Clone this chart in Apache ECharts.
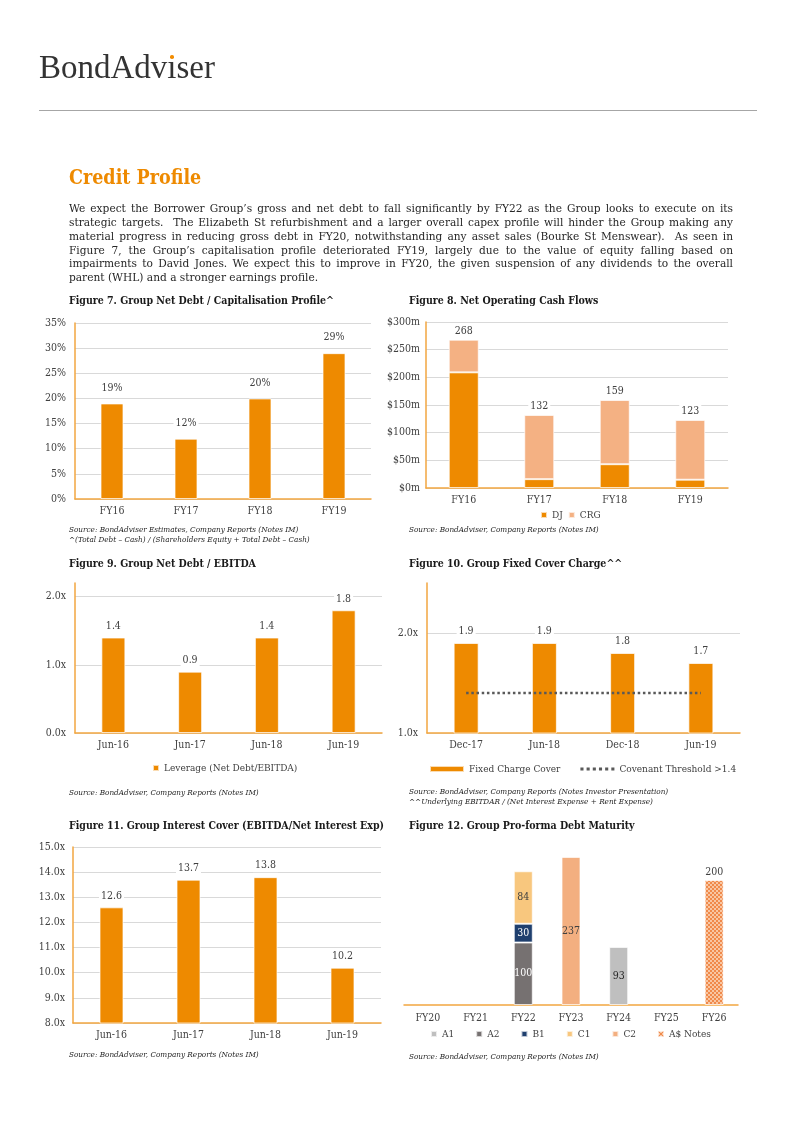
<!DOCTYPE html>
<html><head><meta charset="utf-8">
<script src="https://cdn.jsdelivr.net/npm/echarts@6/dist/echarts.min.js"></script>
<style>
html,body{margin:0;padding:0;background:#fff;}
#page{position:relative;width:800px;height:1132px;overflow:hidden;font-family:'DejaVu Serif Condensed','DejaVu Serif',serif;color:#262626;}
#chart{position:absolute;left:0;top:0;width:800px;height:1132px;}
.t{position:absolute;white-space:nowrap;z-index:2;pointer-events:none;}
.logo{font-family:'Liberation Serif',serif;font-size:33px;line-height:33px;color:#333;left:39px;top:51px;}
.idot{position:relative;}
.idot::after{content:'';position:absolute;width:3.5px;height:3.5px;border-radius:50%;background:#F28C00;left:50%;margin-left:-1.75px;top:6px;}
.rule{position:absolute;left:39px;top:110px;width:718px;height:0;border-top:1.5px solid #A6A6A6;}
.h1{font-weight:bold;font-size:19.5px;line-height:20px;color:#EE8A00;left:69px;top:168px;}
.para{position:absolute;left:69px;top:202.3px;width:664px;font-size:11.8px;line-height:13.8px;color:#262626;z-index:2;}
.para div{text-align:justify;text-align-last:justify;white-space:nowrap;}
.para div.last{text-align-last:left;}
.ft{font-weight:bold;font-size:10.5px;line-height:14px;color:#1a1a1a;}
.src{font-style:italic;font-size:8.1px;line-height:9.8px;color:#262626;}
</style></head>
<body><div id="page">
<div id="chart"></div>
<div class="t logo">BondAdv<span class="idot">ı</span>ser</div>
<div class="rule"></div>
<div class="t h1">Credit Profile</div>
<div class="para">
<div>We expect the Borrower Group’s gross and net debt to fall significantly by FY22 as the Group looks to execute on its</div>
<div>strategic targets.&nbsp; The Elizabeth St refurbishment and a larger overall capex profile will hinder the Group making any</div>
<div>material progress in reducing gross debt in FY20, notwithstanding any asset sales (Bourke St Menswear).&nbsp; As seen in</div>
<div>Figure 7, the Group’s capitalisation profile deteriorated FY19, largely due to the value of equity falling based on</div>
<div>impairments to David Jones. We expect this to improve in FY20, the given suspension of any dividends to the overall</div>
<div class="last">parent (WHL) and a stronger earnings profile.</div>
</div>
<div class="t ft" style="left:69px;top:293px;">Figure 7. Group Net Debt / Capitalisation Profile^</div>
<div class="t ft" style="left:409px;top:293px;">Figure 8. Net Operating Cash Flows</div>
<div class="t ft" style="left:69px;top:556px;">Figure 9. Group Net Debt / EBITDA</div>
<div class="t ft" style="left:409px;top:556px;">Figure 10. Group Fixed Cover Charge^^</div>
<div class="t ft" style="left:69px;top:818px;">Figure 11. Group Interest Cover (EBITDA/Net Interest Exp)</div>
<div class="t ft" style="left:409px;top:818px;">Figure 12. Group Pro-forma Debt Maturity</div>
<div class="t src" style="left:69px;top:525px;">Source: BondAdviser Estimates, Company Reports (Notes IM)<br>^(Total Debt – Cash) / (Shareholders Equity + Total Debt – Cash)</div>
<div class="t src" style="left:409px;top:525px;">Source: BondAdviser, Company Reports (Notes IM)</div>
<div class="t src" style="left:69px;top:788px;">Source: BondAdviser, Company Reports (Notes IM)</div>
<div class="t src" style="left:409px;top:787px;">Source: BondAdviser, Company Reports (Notes Investor Presentation)<br>^^Underlying EBITDAR / (Net Interest Expense + Rent Expense)</div>
<div class="t src" style="left:69px;top:1050px;">Source: BondAdviser, Company Reports (Notes IM)</div>
<div class="t src" style="left:409px;top:1052px;">Source: BondAdviser, Company Reports (Notes IM)</div>
</div>
<script>
// ---------- data ----------
const fig7Categories = ['FY16', 'FY17', 'FY18', 'FY19'];
const fig7NetDebtCap = [0.19, 0.12, 0.20, 0.29];
const fig7Ticks = {min: 0, max: 0.35, interval: 0.05};

const fig8Categories = ['FY16', 'FY17', 'FY18', 'FY19'];
const fig8DJ = [209, 16, 43, 15];
const fig8CRG = [59, 116, 116, 108];
const fig8Totals = [268, 132, 159, 123];
const fig8Ticks = {min: 0, max: 300, interval: 50};

const fig9Categories = ['Jun-16', 'Jun-17', 'Jun-18', 'Jun-19'];
const fig9Leverage = [1.4, 0.9, 1.4, 1.8];
const fig9Ticks = {min: 0, max: 2.2, interval: 1};

const fig10Categories = ['Dec-17', 'Jun-18', 'Dec-18', 'Jun-19'];
const fig10Cover = [1.9, 1.9, 1.8, 1.7];
const fig10Threshold = [1.4, 1.4, 1.4, 1.4];
const fig10Ticks = {min: 1, max: 2.5, interval: 1};

const fig11Categories = ['Jun-16', 'Jun-17', 'Jun-18', 'Jun-19'];
const fig11Cover = [12.6, 13.7, 13.8, 10.2];
const fig11Ticks = {min: 8, max: 15, interval: 1};

const fig12Categories = ['FY20', 'FY21', 'FY22', 'FY23', 'FY24', 'FY25', 'FY26'];
const fig12A1 = [null, null, null, null, 93, null, null];
const fig12A2 = [null, null, 100, null, null, null, null];
const fig12B1 = [null, null, 30, null, null, null, null];
const fig12C1 = [null, null, 84, null, null, null, null];
const fig12C2 = [null, null, null, 237, null, null, null];
const fig12Notes = [null, null, null, null, null, null, 200];
const fig12Max = 240;

// ---------- styles ----------
const FONT = "'DejaVu Serif Condensed','DejaVu Serif',serif";
const ORANGE = '#EE8A00';
const AXIS_ORANGE = '#F2A640';
const GRID_GRAY = '#D9D9D9';
const TXT = '#404040';

const pat = document.createElement('canvas');
pat.width = 4; pat.height = 4;
(function(){
  const c = pat.getContext('2d');
  c.fillStyle = '#F8C6A2'; c.fillRect(0,0,4,4);
  c.fillStyle = '#F0894A'; c.fillRect(0,0,2,2); c.fillRect(2,2,2,2);
})();

const chart = echarts.init(document.getElementById('chart'), null, {renderer: 'canvas'});

const grids = [
  {left: 75, top: 323, width: 296, height: 176},
  {left: 426, top: 322, width: 302, height: 166},
  {left: 75, top: 583, width: 307, height: 150},
  {left: 427, top: 583, width: 313, height: 150},
  {left: 73, top: 847, width: 308, height: 176},
  {left: 404, top: 855, width: 334, height: 150}
];

function xAx(i, data, margin) {
  return {gridIndex: i, type: 'category', data: data,
    axisTick: {show: false},
    axisLine: {lineStyle: {color: AXIS_ORANGE, width: 1.5}},
    axisLabel: {color: TXT, fontSize: 10.5, fontFamily: FONT, margin: margin || 7}};
}
function yAx(i, ticks, fmt, margin, extra) {
  return Object.assign({gridIndex: i, type: 'value', min: ticks.min, max: ticks.max, interval: ticks.interval,
    axisLine: {show: true, lineStyle: {color: AXIS_ORANGE, width: 1.5}},
    axisTick: {show: false},
    splitLine: {lineStyle: {color: GRID_GRAY, width: 1}},
    axisLabel: {color: TXT, fontSize: 10.5, fontFamily: FONT, margin: margin, formatter: fmt}}, extra || {});
}
const xFmt = v => v.toFixed(1) + 'x';
function lbl(dist, fmt) {
  return {show: true, position: 'top', distance: dist, color: TXT, fontSize: 10.5, fontFamily: FONT,
    backgroundColor: '#fff', padding: [1, 2], formatter: fmt};
}
const barStyle = c => ({color: c, borderColor: 'rgba(255,255,255,0.7)', borderWidth: 1});
const legendText = {color: TXT, fontSize: 10, fontFamily: FONT};
const dottedIcon = 'path://M0 0h3v3h-3z M6 0h3v3h-3z M12 0h3v3h-3z M18 0h3v3h-3z M24 0h3v3h-3z M30 0h3v3h-3z';

const option = {
  animation: false,
  textStyle: {fontFamily: FONT},
  grid: grids,
  xAxis: [
    xAx(0, fig7Categories), xAx(1, fig8Categories), xAx(2, fig9Categories),
    xAx(3, fig10Categories), xAx(4, fig11Categories), xAx(5, fig12Categories, 8)
  ],
  yAxis: [
    yAx(0, fig7Ticks, v => Math.round(v * 100) + '%', 9),
    yAx(1, fig8Ticks, v => '$' + v + 'm', 6),
    yAx(2, fig9Ticks, xFmt, 9),
    yAx(3, fig10Ticks, xFmt, 9),
    yAx(4, fig11Ticks, xFmt, 8),
    {gridIndex: 5, type: 'value', min: 0, max: fig12Max, show: false, splitLine: {show: false}}
  ],
  legend: [
    {data: [{name: 'DJ', icon: 'rect'}, {name: 'CRG', icon: 'rect'}], left: 540, top: 510, padding: 0,
     itemWidth: 6, itemHeight: 6, itemGap: 5, textStyle: legendText},
    {data: [{name: 'Leverage (Net Debt/EBITDA)', icon: 'rect'}], left: 152, top: 763, padding: 0,
     itemWidth: 6, itemHeight: 6, textStyle: legendText},
    {data: [{name: 'Fixed Charge Cover', icon: 'rect'}, {name: 'Covenant Threshold >1.4', icon: dottedIcon}],
     left: 429, top: 764, padding: 0,
     itemWidth: 34, itemHeight: 6, itemGap: 20, textStyle: legendText},
    {data: ['A1', 'A2', 'B1', 'C1', 'C2', 'A$ Notes'].map(n => ({name: n, icon: 'rect'})), left: 430, top: 1029, padding: 0,
     itemWidth: 6, itemHeight: 6, itemGap: 21, textStyle: legendText}
  ],
  series: [
    {name: 'Net Debt / Capitalisation', type: 'bar', xAxisIndex: 0, yAxisIndex: 0, data: fig7NetDebtCap,
     barWidth: 23, itemStyle: barStyle(ORANGE), label: lbl(9, p => Math.round(p.value * 100) + '%')},
    {name: 'DJ', type: 'bar', stack: 'cf', xAxisIndex: 1, yAxisIndex: 1, data: fig8DJ,
     barWidth: 30, itemStyle: barStyle(ORANGE)},
    {name: 'CRG', type: 'bar', stack: 'cf', xAxisIndex: 1, yAxisIndex: 1, data: fig8CRG,
     barWidth: 30, itemStyle: barStyle('#F4B183'), label: lbl(2, p => String(fig8Totals[p.dataIndex]))},
    {name: 'Leverage (Net Debt/EBITDA)', type: 'bar', xAxisIndex: 2, yAxisIndex: 2, data: fig9Leverage,
     barWidth: 24, itemStyle: barStyle(ORANGE), label: lbl(5, p => p.value.toFixed(1))},
    {name: 'Fixed Charge Cover', type: 'bar', xAxisIndex: 3, yAxisIndex: 3, data: fig10Cover,
     barWidth: 25, itemStyle: barStyle(ORANGE), label: lbl(5, p => p.value.toFixed(1))},
    {name: 'Covenant Threshold >1.4', type: 'line', xAxisIndex: 3, yAxisIndex: 3, data: fig10Threshold,
     symbol: 'none', z: 5, itemStyle: {color: '#595959'},
     lineStyle: {color: '#595959', width: 2.5, type: [2.5, 2.7]}},
    {name: 'Interest Cover', type: 'bar', xAxisIndex: 4, yAxisIndex: 4, data: fig11Cover,
     barWidth: 24, itemStyle: barStyle(ORANGE), label: lbl(5, p => p.value.toFixed(1))},
    {name: 'A1', type: 'bar', stack: 'dm', xAxisIndex: 5, yAxisIndex: 5, data: fig12A1, barWidth: 19,
     itemStyle: barStyle('#BFBFBF'), label: {show: true, position: 'inside', color: '#262626', fontSize: 10.5, fontFamily: FONT}},
    {name: 'A2', type: 'bar', stack: 'dm', xAxisIndex: 5, yAxisIndex: 5, data: fig12A2, barWidth: 19,
     itemStyle: barStyle('#767171'), label: {show: true, position: 'inside', color: '#fff', fontSize: 10.5, fontFamily: FONT}},
    {name: 'B1', type: 'bar', stack: 'dm', xAxisIndex: 5, yAxisIndex: 5, data: fig12B1, barWidth: 19,
     itemStyle: barStyle('#1F3F6E'), label: {show: true, position: 'inside', color: '#fff', fontSize: 10.5, fontFamily: FONT}},
    {name: 'C1', type: 'bar', stack: 'dm', xAxisIndex: 5, yAxisIndex: 5, data: fig12C1, barWidth: 19,
     itemStyle: barStyle('#F8C77E'), label: {show: true, position: 'inside', color: '#404040', fontSize: 10.5, fontFamily: FONT}},
    {name: 'C2', type: 'bar', stack: 'dm', xAxisIndex: 5, yAxisIndex: 5, data: fig12C2, barWidth: 19,
     itemStyle: barStyle('#F3AF80'), label: {show: true, position: 'inside', color: '#404040', fontSize: 10.5, fontFamily: FONT}},
    {name: 'A$ Notes', type: 'bar', stack: 'dm', xAxisIndex: 5, yAxisIndex: 5, data: fig12Notes, barWidth: 19,
     itemStyle: {color: {image: pat, repeat: 'repeat'}, borderColor: 'rgba(255,255,255,0.7)', borderWidth: 1},
     label: lbl(1, p => String(p.value))}
  ]
};
option.yAxis[2].axisLabel.showMaxLabel = false;
option.yAxis[2].splitLine.showMaxLine = false;
option.yAxis[3].axisLabel.showMaxLabel = false;
option.yAxis[3].splitLine.showMaxLine = false;
chart.setOption(option);
</script>
</body></html>
